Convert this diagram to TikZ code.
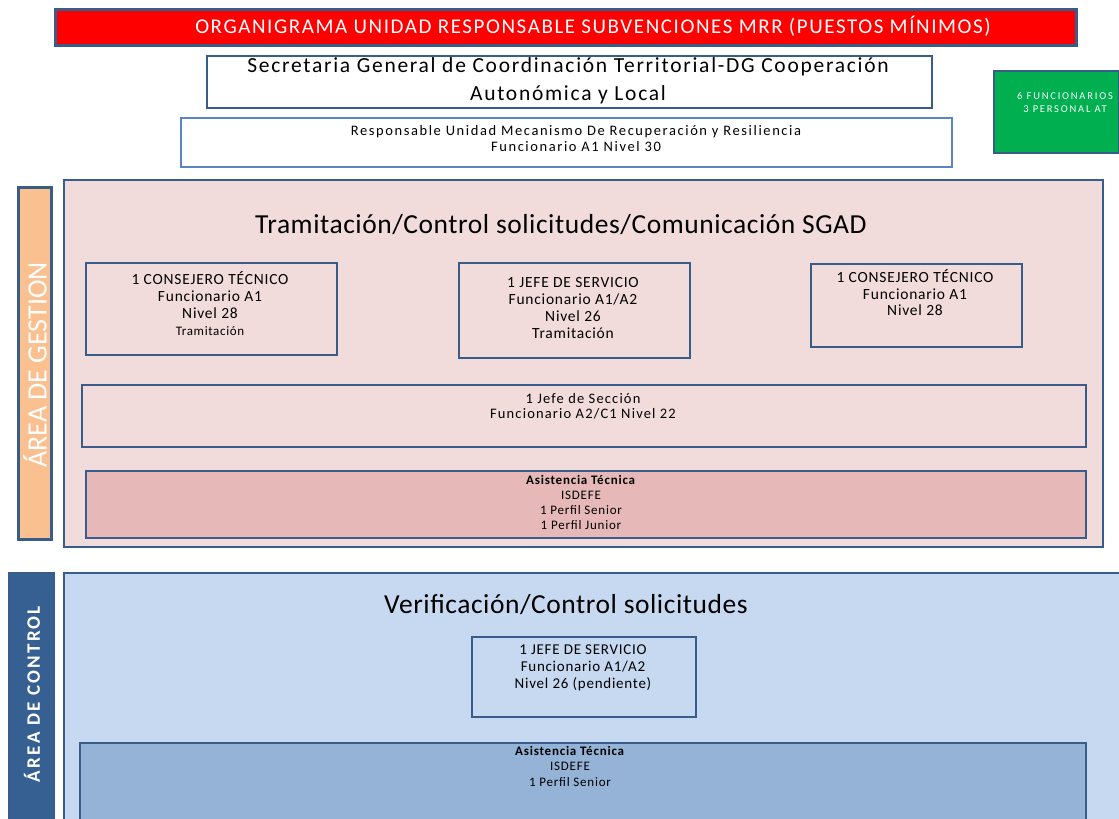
\documentclass[tikz,border=0pt]{standalone}
\usepackage{fontspec}
\setmainfont{Carlito}
\definecolor{bord}{HTML}{385D8A}
\definecolor{lbord}{HTML}{5B85C0}
\definecolor{gfill}{HTML}{00B050}
\definecolor{peach}{HTML}{FAC090}
\definecolor{pinkp}{HTML}{F2DCDB}
\definecolor{pinkb}{HTML}{E6B9B8}
\definecolor{ctrlc}{HTML}{376092}
\definecolor{bluep}{HTML}{C6D9F1}
\definecolor{blueb}{HTML}{95B3D7}
\newcommand\fsz[2]{\fontsize{#1}{#2}\selectfont}
\newcommand\lsp[1]{\addfontfeatures{LetterSpace=#1}}
\tikzset{
  rbox/.style={draw=bord, line width=2pt, inner sep=0pt, anchor=north west},
  txt/.style={inner sep=0pt, align=center, text=black}
}
\begin{document}
\begin{tikzpicture}[x=1pt,y=-1pt]
\useasboundingbox (0,0) rectangle (1119,819);
\clip (0,0) rectangle (1119,819);
% header
\node[rbox, line width=3pt, fill=red, minimum width=1021pt, minimum height=36pt] (banner) at (54,8) {};
\node[txt, text=white, font=\fsz{21}{24}\lsp{7.5}] (bannert) at (593,26) {ORGANIGRAMA UNIDAD RESPONSABLE SUBVENCIONES MRR (PUESTOS MÍNIMOS)};
\node[rbox, fill=white, minimum width=725pt, minimum height=52pt] (secr) at (206,55) {};
\node[txt, font=\fsz{21.5}{28}\lsp{8}] (secrt) at (568,81) {Secretaria General de Coordinación Territorial-DG Cooperación\\Autonómica y Local};
\node[rbox, draw=lbord, fill=white, minimum width=771pt, minimum height=49pt] (resp) at (180,117) {};
\node[txt, font=\fsz{14.5}{16}\lsp{11}] (respt) at (576,139) {Responsable Unidad Mecanismo De Recuperación y Resiliencia\\Funcionario A1 Nivel 30};
\node[rbox, fill=gfill, minimum width=125pt, minimum height=82pt] (green) at (993,70) {};
\node[txt, text=white, font=\fsz{10.5}{13}\lsp{17}] (greent) at (1065,102) {6 FUNCIONARIOS\\3 PERSONAL AT};
% gestion
\node[rbox, line width=2.5pt, fill=peach, minimum width=33pt, minimum height=352pt] (gestlab) at (17,186) {};
\node[txt, text=white, rotate=90, font=\fsz{28}{30}] (gestlabt) at (35,365) {ÁREA DE GESTION};
\node[rbox, fill=pinkp, minimum width=1039pt, minimum height=367pt] (gest) at (63,179) {};
\node[txt, font=\fsz{27.5}{30}\lsp{2}] (gestt) at (561,225) {Tramitación/Control solicitudes/Comunicación SGAD};
\node[rbox, minimum width=251pt, minimum height=92pt] (b1) at (85,262) {};
\node[txt, font=\fsz{15.5}{17}\lsp{5}] (b1t) at (210,304) {1 CONSEJERO TÉCNICO\\Funcionario A1\\Nivel 28\\{\fsz{13}{16}Tramitación}};
\node[rbox, minimum width=231pt, minimum height=95pt] (b2) at (458,262) {};
\node[txt, font=\fsz{15.5}{17}\lsp{5}] (b2t) at (573,308) {1 JEFE DE SERVICIO\\Funcionario A1/A2\\Nivel 26\\Tramitación};
\node[rbox, minimum width=211pt, minimum height=83pt] (b3) at (810,263) {};
\node[txt, font=\fsz{15.5}{16.5}\lsp{5}] (b3t) at (915,293) {1 CONSEJERO TÉCNICO\\Funcionario A1\\Nivel 28};
\node[rbox, minimum width=1004pt, minimum height=62pt] (sec) at (81,384) {};
\node[txt, font=\fsz{14.5}{15}\lsp{8}] (sect) at (583,406) {1 Jefe de Sección\\Funcionario A2/C1 Nivel 22};
\node[rbox, fill=pinkb, minimum width=1000pt, minimum height=67pt] (asis1) at (85,470) {};
\node[txt, font=\fsz{13}{15}\lsp{6}] (asis1t) at (581,502) {\textbf{Asistencia Técnica}\\ISDEFE\\1 Perfil Senior\\1 Perfil Junior};
% control
\node[rbox, fill=ctrlc, minimum width=45pt, minimum height=260pt] (ctrllab) at (8,572) {};
\node[txt, text=white, rotate=90, font=\fsz{19}{20}\bfseries\lsp{12}] (ctrllabt) at (32,694) {ÁREA DE CONTROL};
\node[rbox, fill=bluep, minimum width=1060pt, minimum height=260pt] (ctrl) at (63,572) {};
\node[txt, font=\fsz{27.5}{30}\lsp{2}] (ctrlt) at (566,605) {Verificación/Control solicitudes};
\node[rbox, minimum width=224pt, minimum height=80pt] (b4) at (471,636) {};
\node[txt, font=\fsz{15}{17}\lsp{5}] (b4t) at (583,668) {1 JEFE DE SERVICIO\\Funcionario A1/A2\\Nivel 26 (pendiente)};
\node[rbox, fill=blueb, minimum width=1006pt, minimum height=100pt] (asis2) at (79,742) {};
\node[txt, font=\fsz{13}{15.5}\lsp{6}] (asis2t) at (570,766) {\textbf{Asistencia Técnica}\\ISDEFE\\1 Perfil Senior};
\end{tikzpicture}
\end{document}
